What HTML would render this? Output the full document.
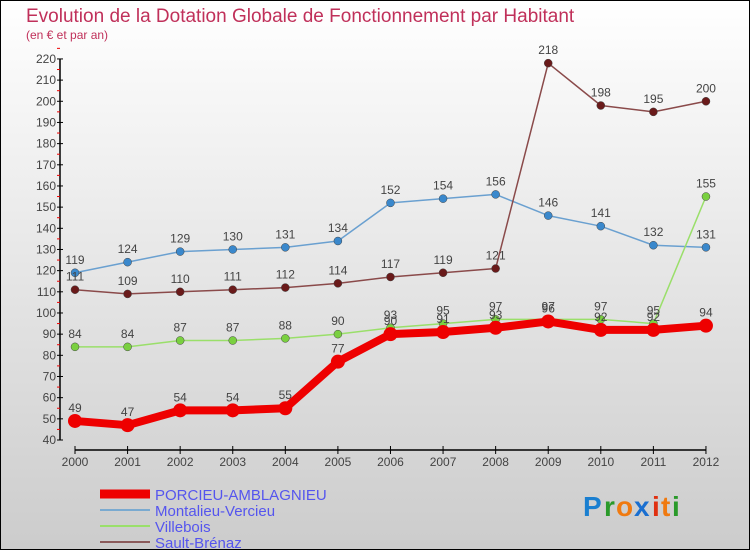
<!DOCTYPE html>
<html><head><meta charset="utf-8"><style>
body{margin:0}
#c{width:750px;height:550px;position:relative;font-family:"Liberation Sans",sans-serif;box-sizing:border-box;border:1px solid #000;background:linear-gradient(#fff,#ccc);overflow:hidden}
</style></head><body>
<div id="c">
<svg id="s" width="750" height="550" style="position:absolute;left:-1px;top:-1px" font-family="Liberation Sans, sans-serif">
<text x="26" y="22" font-size="19" fill="#c0305a">Evolution de la Dotation Globale de Fonctionnement par Habitant</text>
<text x="26" y="39" font-size="12" fill="#c0305a">(en € et par an)</text>
<g id="ax"></g><g id="ser"></g><g id="leg"></g>
<g font-size="28" font-weight="bold">
<text x="583" y="516" fill="#1a7fd0">P</text><text x="604" y="516" fill="#2a9a2a">r</text><text x="616" y="516" fill="#f07a10">o</text><text x="634" y="516" fill="#1a6fd0">x</text><text x="652" y="516" fill="#e03010">i</text><text x="661" y="516" fill="#f07a10">t</text><text x="672" y="516" fill="#2a9a2a">i</text></g>
</svg></div>
<script>
const years=[2000,2001,2002,2003,2004,2005,2006,2007,2008,2009,2010,2011,2012];
const porcieu=[49,47,54,54,55,77,90,91,93,96,92,92,94];
const montalieu=[119,124,129,130,131,134,152,154,156,146,141,132,131];
const villebois=[84,84,87,87,88,90,93,95,97,97,97,95,155];
const sault=[111,109,110,111,112,114,117,119,121,218,198,195,200];
const yTicks=[40,50,60,70,80,90,100,110,120,130,140,150,160,170,180,190,200,210,220];
const NS="http://www.w3.org/2000/svg";
const X=i=>75+i*52.58, Y=v=>440-(v-40)*2.117;
function mk(p,t,a){const e=document.createElementNS(NS,t);for(const k in a)e.setAttribute(k,a[k]);p.appendChild(e);return e;}
const ax=document.getElementById('ax');
let l=mk(ax,'line',{x1:60,y1:Y(220),x2:60,y2:Y(40),stroke:'#000','stroke-width':1.5});

l=mk(ax,'line',{x1:X(0),y1:450,x2:X(12),y2:450,stroke:'#000','stroke-width':1.5});

yTicks.forEach(v=>{mk(ax,'line',{x1:57,x2:63,y1:Y(v),y2:Y(v),stroke:'#000'});
 mk(ax,'line',{x1:57,x2:60,y1:Y(v+5),y2:Y(v+5),stroke:'#e00'});
 const t=mk(ax,'text',{x:56,y:Y(v)+4,'text-anchor':'end','font-size':12,fill:'#444'});t.textContent=v;
 });
years.forEach((y,i)=>{mk(ax,'line',{x1:X(i),x2:X(i),y1:446,y2:454,stroke:'#000'});
 const t=mk(ax,'text',{x:X(i),y:466,'text-anchor':'middle','font-size':12,fill:'#444'});t.textContent=y;
 });
const ser=document.getElementById('ser');
const defs=[[montalieu,'#6aa0d0','#3a88cc',1.5,4,'montalieu-vercieu'],[villebois,'#9adf6a','#7ad040',1.5,4,'villebois'],[sault,'#8a4a4a','#6a1a1a',1.5,4,'sault-brenaz'],[porcieu,'#ee0000','#ee0000',8,7,'porcieu-amblagnieu']];
defs.forEach(([d,lc,pc,w,r,n])=>{const g=mk(ser,'g',{});
 const p=mk(g,'polyline',{points:d.map((v,i)=>X(i)+','+Y(v)).join(' '),fill:'none',stroke:lc,'stroke-width':w,'stroke-linejoin':'round'});
 d.forEach((v,i)=>{const c=mk(g,'circle',{cx:X(i),cy:Y(v),r:r,fill:pc,stroke:w>2?'none':'#444','stroke-width':0.5});
  
  const t=mk(g,'text',{x:X(i),y:Y(v)-9,'text-anchor':'middle','font-size':12,fill:'#444'});t.textContent=v;});});
const leg=document.getElementById('leg');
[['PORCIEU-AMBLAGNIEU','#ee0000',9],['Montalieu-Vercieu','#7aaad0',2],['Villebois','#9adf6a',2],['Sault-Brénaz','#8a5a5a',2]].forEach(([n,c,w],k)=>{
 const y=494+k*16;const g=mk(leg,'g',{});
 mk(g,'line',{x1:100,x2:150,y1:y,y2:y,stroke:c,'stroke-width':w});
 const t=mk(g,'text',{x:155,y:y+6,'font-size':15,fill:'#5555ee'});t.textContent=n;});
</script></body></html>
